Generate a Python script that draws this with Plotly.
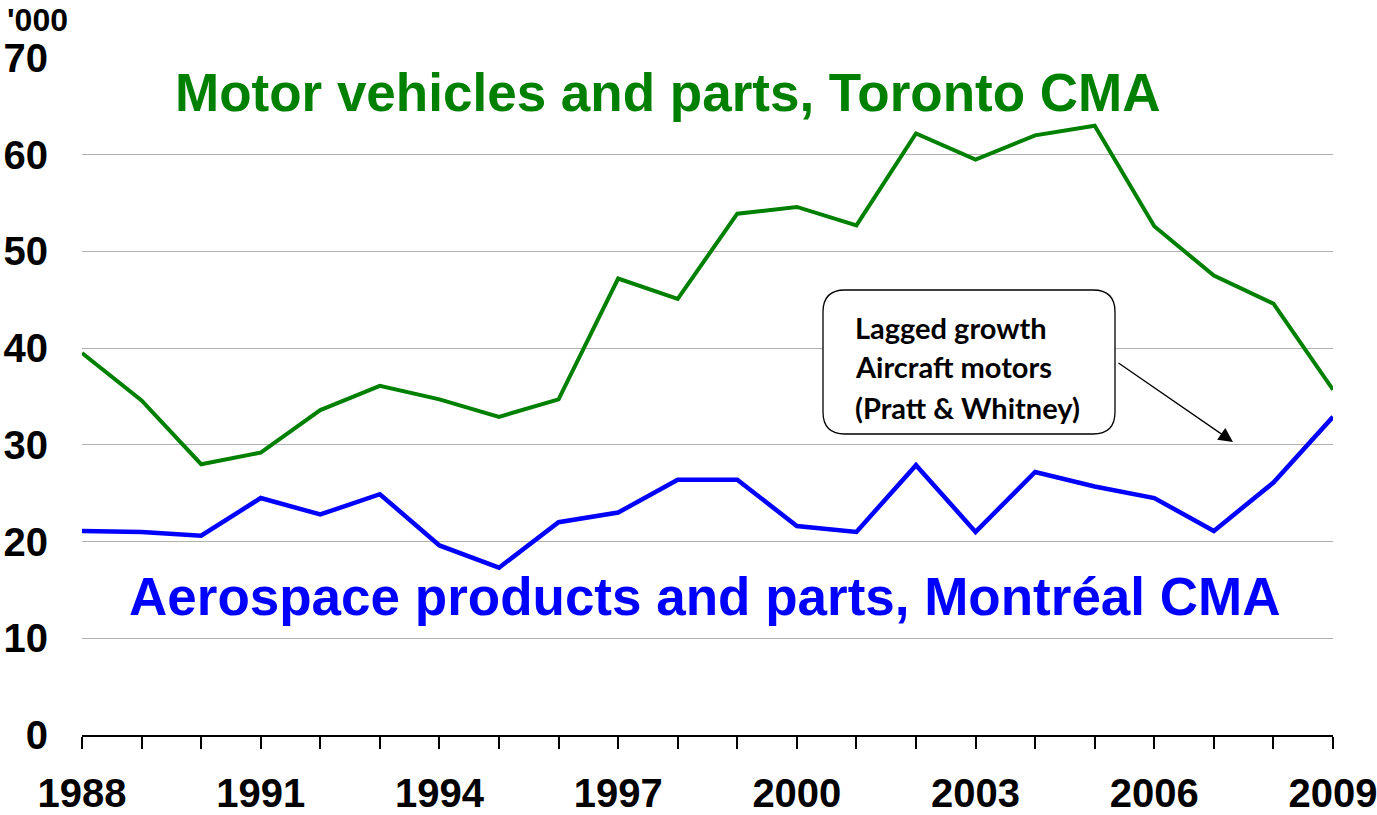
import plotly.graph_objects as go

years = list(range(1988, 2010))
motor_toronto = [39.5, 34.6, 28.0, 29.2, 33.6, 36.1, 34.7, 32.9, 34.7, 47.2, 45.1,
                 53.9, 54.6, 52.7, 62.2, 59.5, 62.0, 63.0, 52.6, 47.5, 44.6, 35.7]
aero_montreal = [21.1, 21.0, 20.6, 24.5, 22.8, 24.9, 19.6, 17.3, 22.0, 23.0, 26.4,
                 26.4, 21.6, 21.0, 27.9, 21.0, 27.2, 25.7, 24.5, 21.1, 26.1, 32.9]
x_tick_labels = [str(y) if (y - 1988) % 3 == 0 else "" for y in years]
y_ticks = [0, 10, 20, 30, 40, 50, 60, 70]

W, H = 1377, 815
PL, PR, PT, PB = 82, 1333, 58, 735          # plot area in page pixels
ML, MT, MR, MB = PL, PT, W - PR, H - PB
PW, PH = PR - PL, PB - PT


def px(xp):
    return (xp - PL) / PW


def py(yp):
    return (PB - yp) / PH


fig = go.Figure()
fig.add_trace(go.Scatter(x=years, y=motor_toronto, mode="lines",
                         line=dict(color="#008000", width=4), hoverinfo="x+y"))
fig.add_trace(go.Scatter(x=years, y=aero_montreal, mode="lines",
                         line=dict(color="#0000FF", width=4.5), hoverinfo="x+y"))

# rounded callout box
x0, x1, y0, y1 = px(823), px(1115), py(434), py(290)
rx, ry = 22 / PW, 22 / PH
path = (f"M {x0+rx},{y0} L {x1-rx},{y0} Q {x1},{y0} {x1},{y0+ry} "
        f"L {x1},{y1-ry} Q {x1},{y1} {x1-rx},{y1} L {x0+rx},{y1} "
        f"Q {x0},{y1} {x0},{y1-ry} L {x0},{y0+ry} Q {x0},{y0} {x0+rx},{y0} Z")
fig.add_shape(type="path", path=path, xref="paper", yref="paper",
              line=dict(color="black", width=1.3), fillcolor="white", layer="above")

callout_lines = ["Lagged growth", "Aircraft motors", "(Pratt & Whitney)"]
for i, t in enumerate(callout_lines):
    fig.add_annotation(x=px(853), y=py(327 + 40 * i), xref="paper", yref="paper",
                       text=t, showarrow=False, xanchor="left", yanchor="middle",
                       font=dict(family="Lato", size=29, color="black", weight="bold"))

fig.add_annotation(x=px(1233), y=py(442), xref="paper", yref="paper", text="",
                   showarrow=True, ax=-116, ay=-80, arrowhead=2, arrowsize=2.2,
                   arrowwidth=1.3, arrowcolor="black")

fig.add_annotation(x=px(667), y=py(93), xref="paper", yref="paper",
                   text="<b>Motor vehicles and parts, Toronto CMA</b>", showarrow=False,
                   xanchor="center", yanchor="middle",
                   font=dict(family="Arial, Liberation Sans", size=53, color="#008000"))
fig.add_annotation(x=px(704), y=py(596), xref="paper", yref="paper",
                   text="<b>Aerospace products and parts, Montréal CMA</b>", showarrow=False,
                   xanchor="center", yanchor="middle",
                   font=dict(family="Arial, Liberation Sans", size=53, color="#0000FF"))
fig.add_annotation(x=px(5), y=py(20), xref="paper", yref="paper",
                   text="<b>'000</b>", showarrow=False, xanchor="left", yanchor="middle",
                   font=dict(family="Arial, Liberation Sans", size=32, color="black"))

fig.update_layout(
    width=W, height=H,
    margin=dict(l=ML, r=MR, t=MT, b=MB, pad=0, autoexpand=False),
    paper_bgcolor="white", plot_bgcolor="white",
    showlegend=False,
    font=dict(family="Arial, Liberation Sans", color="black"),
    xaxis=dict(range=[1988, 2009], tickmode="array", tickvals=years, ticktext=x_tick_labels,
               ticks="outside", ticklen=12, tickwidth=1.5, tickcolor="black",
               showline=True, linecolor="black", linewidth=1.5, showgrid=False,
               zeroline=False, ticklabelstandoff=10, automargin=False,
               ticklabeloverflow="allow",
               tickfont=dict(size=40, weight="bold")),
    yaxis=dict(range=[0, 70], tickmode="array", tickvals=y_ticks,
               showgrid=True, gridcolor="#b0b0b0", gridwidth=1.2, zeroline=False,
               showline=False, ticks="", ticklabelstandoff=33, automargin=False,
               ticklabeloverflow="allow",
               tickfont=dict(size=40, weight="bold")),
)

fig.write_html("out.html", config={"displayModeBar": False},
               post_script="document.body.style.margin='0';"
                           "document.body.style.overflow='hidden';")
